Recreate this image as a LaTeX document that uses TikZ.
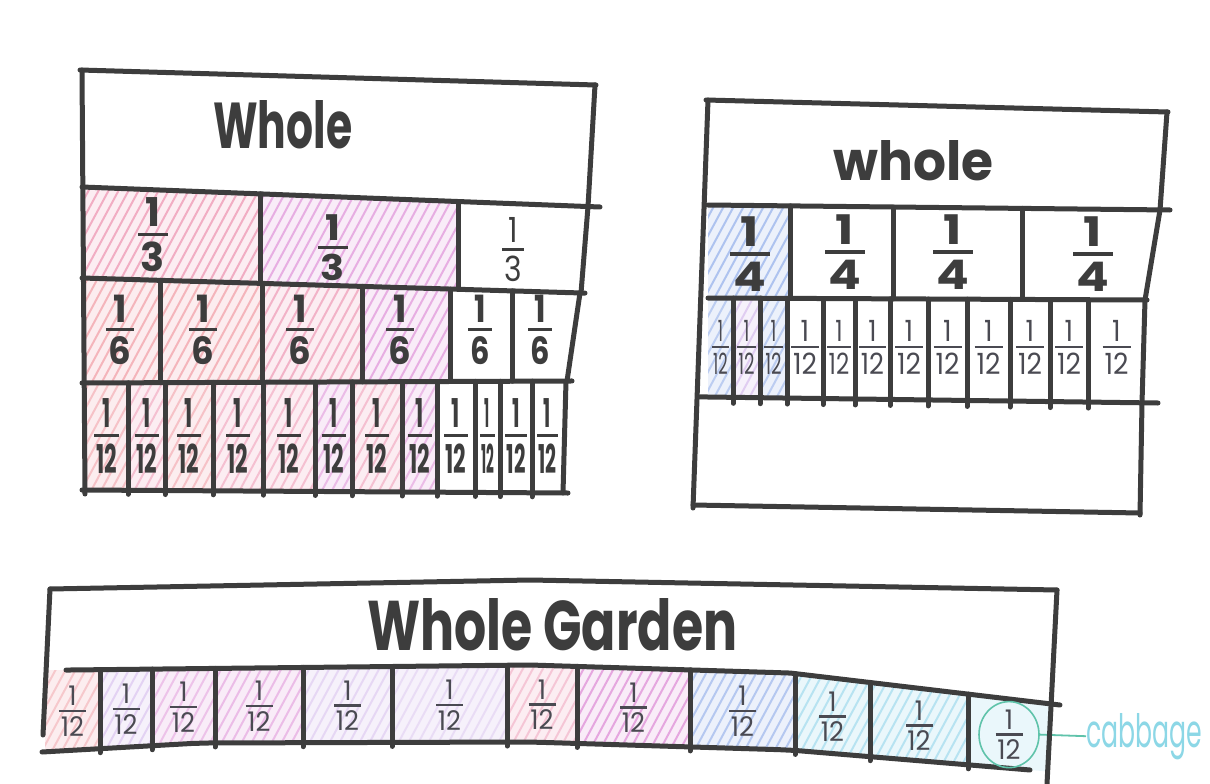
\documentclass[tikz,border=0pt]{standalone}
\usepackage{fontspec}
\setmainfont{Poppins}
\usepackage{graphicx}
\usetikzlibrary{shapes.geometric}
\definecolor{inkgray}{HTML}{3D3D3D}
\definecolor{thinpen}{HTML}{4A4A52}
\definecolor{hpink}{RGB}{232,110,150}
\definecolor{hmag}{RGB}{210,100,200}
\definecolor{hred}{RGB}{235,115,125}
\definecolor{hlav}{RGB}{185,140,225}
\definecolor{hblue}{RGB}{100,140,225}
\definecolor{hcyan}{RGB}{90,190,225}
\definecolor{cabgreen}{RGB}{95,195,170}
\definecolor{cabcyan}{RGB}{140,215,230}

% fraction 1/#1, width #2, height #3, gap #4
\newcommand\fr[4]{\resizebox{#2}{#3}{\shortstack{1\\[#4]{\setbox0\hbox{#1}\rule{\dimexpr\wd0+0.15em\relax}{0.09em}}\\[#4]#1}}}

% hatched cell: xa, xb, top function, bottom function, colour, opacity
\newcommand\hatchcell[6]{%
  \begin{scope}
    \clip (#1,{#3(#1)}) -- (#2,{#3(#2)}) -- (#2,{#4(#2)}) -- (#1,{#4(#1)}) -- cycle;
    \fill[fill=#5,opacity=0.12] (#1,0) rectangle (#2,784);
    \foreach \s in {-80,-70,...,220}
      \draw[draw=#5,opacity=#6,line width=2pt] ({#1+\s},{#4(#1)+12}) -- ++(70,-130);
  \end{scope}}

\begin{document}
\begin{tikzpicture}[x=1pt,y=-1pt,
  penline/.style={draw=inkgray,line width=5pt,line cap=round,line join=round},
  txt/.style={inner sep=0pt,text=inkgray},
  thintxt/.style={inner sep=0pt,text=thinpen},
  declare function={
    fla(\x)=70+15*(\x-82)/513;
    flb(\x)=187+20*(\x-82)/518;
    flc(\x)=278+15*(\x-82)/500;
    fld(\x)=383-2*(\x-82)/488;
    fle(\x)=490+3*(\x-82)/486;
    fra(\x)=100+12*(\x-708)/459;
    frb(\x)=205+5*(\x-708)/462;
    frc(\x)=298+2*(\x-708)/437;
    frd(\x)=397+6*(\x-708)/450;
    fre(\x)=505+8*(\x-693)/447;
    fbm(\x)=670-0.01087*(\x-70)+0.04164*max(\x-530,0)+0.08775*max(\x-790,0);
    fbb(\x)=752-0.05696*(\x-42)+0.05393*max(\x-200,0)+0.0338*max(\x-530,0)+0.05256*max(\x-790,0);
  }]
\fill[white] (0,0) rectangle (1210,784);
\useasboundingbox (0,0) rectangle (1210,784);

% ---------- hatching ----------
\hatchcell{85}{260}{flb}{flc}{hpink}{0.5}
\hatchcell{260}{458}{flb}{flc}{hmag}{0.45}
\foreach \a/\b/\c in {85/160/hred,160/262/hred,262/362/hpink,362/450/hmag}
  {\hatchcell{\a}{\b}{flc}{fld}{\c}{0.45}}
\foreach \a/\b/\c in {85/128/hred,128/165/hpink,165/213/hred,213/263/hpink,263/315/hpink,315/352/hmag,352/402/hpink,402/437/hmag}
  {\hatchcell{\a}{\b}{fld}{fle}{\c}{0.35}}
\hatchcell{708}{790}{frb}{frc}{hblue}{0.45}
\foreach \a/\b/\c in {708/733/hblue,733/760/hlav,760/787/hblue}
  {\hatchcell{\a}{\b}{frc}{frd}{\c}{0.35}}
\foreach \a/\b/\c/\op in {45/100/hred/0.3,100/152/hlav/0.3,152/215/hmag/0.3,215/303/hmag/0.35,303/392/hlav/0.25,392/507/hlav/0.2,507/577/hpink/0.3,577/690/hmag/0.5,690/795/hblue/0.4,795/870/hcyan/0.35,870/968/hcyan/0.35,968/1050/hcyan/0.0}
  {\hatchcell{\a}{\b}{fbm}{fbb}{\c}{\op}}

% ---------- left chart ----------
\draw[penline] (80,70) -- (596,85);
\draw[penline] (82,70) -- (85,494);
\draw[penline] (82,{flb(82)}) -- (600,{flb(600)});
\draw[penline] (82,{flc(82)}) -- (585,{flc(585)});
\draw[penline] (82,{fld(82)}) -- (572,{fld(572)});
\draw[penline] (82,{fle(82)}) -- (568,{fle(568)});
\draw[penline] (595,85) -- (588,{flb(588)});
\draw[penline] (588,{flb(588)}) -- (581,{flc(581)});
\draw[penline] (580,{flc(580)}) -- (567,{fld(567)});
\draw[penline] (566,{fld(566)}) -- (563,{fle(563)});
\foreach \x in {260,458} \draw[penline] (\x,{flb(\x)}) -- (\x,{flc(\x)});
\foreach \x in {160,262,362,450,512} \draw[penline] (\x,{flc(\x)}) -- (\x,{fld(\x)});
\foreach \x in {128,165,213,263,315,352,402,437,475,500,532} \draw[penline] (\x,{fld(\x)}) -- (\x,{fle(\x)+4});

\node[txt,anchor=base west] (lwhole) at (213,148) {\resizebox{139pt}{48pt}{\bfseries Whole}};
\node[txt] (lt1) at (153,235) {\bfseries\fr{3}{30pt}{74pt}{-1.5pt}};
\node[txt] (lt2) at (333,248) {\bfseries\fr{3}{30pt}{66pt}{-1.5pt}};
\node[txt] (lt3) at (513,250) {\fr{3}{22pt}{64pt}{-1.5pt}};
\foreach \xc/\w [count=\i] in {120/28,203/28,300/28,400/28,480/24,540/24}
  \node[txt] (ls\i) at (\xc,330) {\bfseries\fr{6}{\w pt}{70pt}{-1.5pt}};
\foreach \a/\b [count=\i] in {85/128,128/165,165/213,213/263,263/315,315/352,352/402,402/437,437/475,475/500,500/532,532/563}{
  \pgfmathsetmacro\xc{(\a+\b)/2}
  \pgfmathsetmacro\w{min(\b-\a-10,24)}
  \node[txt] (lw\i) at (\xc,436) {\bfseries\fr{12}{\w pt}{74pt}{-1.5pt}};
}

% ---------- right chart ----------
\draw[penline] (706,100) -- (1168,112);
\draw[penline] (708,100) -- (693,508);
\draw[penline] (708,{frb(708)}) -- (1170,{frb(1170)});
\draw[penline] (708,{frc(708)}) -- (1147,{frc(1147)});
\draw[penline] (700,{frd(700)}) -- (1158,{frd(1158)});
\draw[penline] (693,{fre(693)}) -- (1140,{fre(1140)});
\draw[penline] (1167,112) -- (1160,210) -- (1145,300) -- (1142,403) -- (1140,515);
\foreach \x in {790,893,1022} \draw[penline] (\x,{frb(\x)}) -- (\x,{frc(\x)});
\foreach \x in {733,760,787,823,855,890,928,967,1010,1050,1088} \draw[penline] (\x,{frc(\x)}) -- (\x,{frd(\x)+6});

\node[txt,anchor=base west] (rwhole) at (833,180) {\resizebox{160pt}{40pt}{\bfseries whole}};
\foreach \xc/\yc [count=\i] in {750/254,845/252,953/252,1093/254}
  \node[txt] (rq\i) at (\xc,\yc) {\bfseries\fr{4}{40pt}{75pt}{-1.5pt}};
\foreach \a/\b [count=\i] in {708/733,733/760,760/787,787/823,823/855,855/890,890/928,928/967,967/1010,1010/1050,1050/1088,1088/1145}{
  \pgfmathsetmacro\xc{(\a+\b)/2}
  \pgfmathsetmacro\w{min(\b-\a-8,28)}
  \node[thintxt] (rw\i) at (\xc,347) {\fr{12}{\w pt}{54pt}{-1.5pt}};
}

% ---------- bottom chart ----------
\draw[penline] (50,589) -- (530,580) -- (1057,590);
\draw[penline] (50,589) -- (43,735);
\draw[penline] plot[domain=66:1060,samples=60] (\x,{fbm(\x)});
\draw[penline] plot[domain=42:1030,samples=60] (\x,{fbb(\x)});
\foreach \x in {100,152,215,303,392,507,577,690,795,870,968} \draw[penline] (\x,{fbm(\x)}) -- (\x,{fbb(\x)+4});

\node[txt,anchor=base west] (garden) at (367,650) {\resizebox{370pt}{52pt}{\bfseries Whole Garden}};
\foreach \a/\b [count=\i] in {45/100,100/152,152/215,215/303,303/392,392/507,507/577,577/690,690/795,795/870,870/968,968/1050}{
  \pgfmathsetmacro\xc{(\a+\b)/2}
  \pgfmathsetmacro\yc{(fbm(\xc)+fbb(\xc))/2+1}
  \node[thintxt] (g\i) at (\xc,\yc) {\fr{12}{27pt}{50pt}{-1.5pt}};
}
\node[draw=cabgreen,line width=1.6pt,ellipse,minimum width=60pt,minimum height=66pt,inner sep=0pt] (cab) at (g12) {};
\node[inner sep=0pt,anchor=base west,text=cabcyan] (cablbl) at (1086,747) {\resizebox{116pt}{34pt}{cabbage}};
\draw[cabgreen,line width=1.8pt] (cab.east) -- (cablbl.west);
\draw[penline] (1057,590) -- (1047,784);
\end{tikzpicture}
\end{document}
